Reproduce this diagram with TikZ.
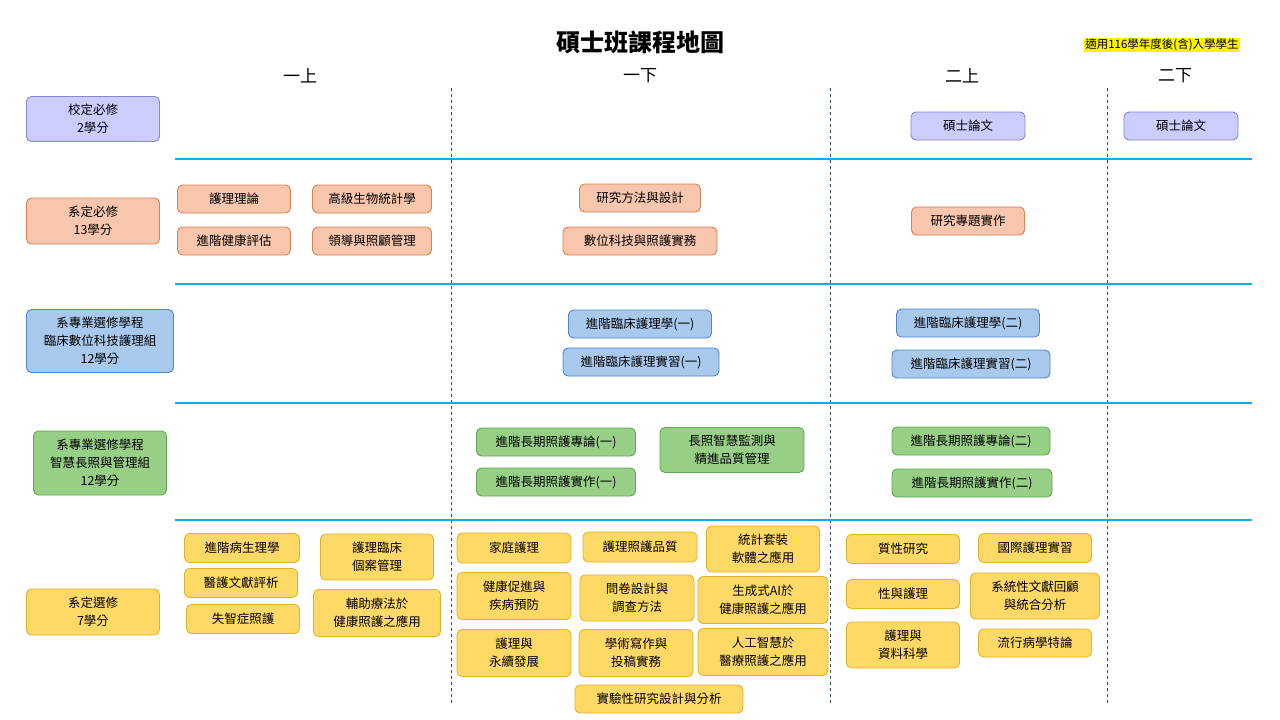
\documentclass[tikz,border=0pt]{standalone}
\usepackage{fontspec}
\setmainfont{Noto Sans CJK TC}
\usetikzlibrary{shapes.geometric}
\definecolor{pF}{HTML}{CCCCFF}\definecolor{pD}{HTML}{8585D6}
\definecolor{oF}{HTML}{F8C6AC}\definecolor{oD}{HTML}{DD7F52}
\definecolor{bF}{HTML}{A9C9EC}\definecolor{bD}{HTML}{4F86CC}
\definecolor{gF}{HTML}{97CF86}\definecolor{gD}{HTML}{5EA84E}
\definecolor{yF}{HTML}{FFD966}\definecolor{yD}{HTML}{E2B32A}
\definecolor{lineB}{HTML}{1AA7E8}\definecolor{dashC}{HTML}{2F4F6F}
\tikzset{
 bx/.style={draw, rounded corners=5pt, line width=0.9pt, align=center, inner sep=0pt, font=\fontsize{12.5}{18}\selectfont},
 P/.style={bx, fill=pF, draw=pD}, O/.style={bx, fill=oF, draw=oD},
 B/.style={bx, fill=bF, draw=bD}, G/.style={bx, fill=gF, draw=gD},
 Y/.style={bx, fill=yF, draw=yD},
 hl/.style={lineB, line width=2.6pt},
 vl/.style={dashC, dashed, line width=0.8pt},
 hd/.style={font=\fontsize{17}{20}\selectfont}
}
\newcommand{\bxn}[7]{\node[#6, minimum width=#4pt, minimum height=#5pt] (#1) at (#2pt,-#3pt) {#7};}
\begin{document}
\begin{tikzpicture}[x=1pt,y=1pt]
\useasboundingbox (0,0) rectangle (1280,-720);
\fill[white] (0,0) rectangle (1280,-720);
\node[font=\fontsize{24}{28}\selectfont\bfseries] (title) at (640,-42) {碩士班課程地圖};
\node[fill=yellow, inner sep=1pt, font=\fontsize{11.5}{13}\selectfont] (note) at (1162,-45) {適用116學年度後(含)入學學生};
\node[hd] (h1) at (300,-76) {一上};
\node[hd] (h2) at (640,-76) {一下};
\node[hd] (h3) at (962,-76) {二上};
\node[hd] (h4) at (1175,-76) {二下};
\foreach \x in {451,830,1107} \draw[vl] (\x,-88) -- (\x,-703);
\foreach \y in {159,284,403,520} \draw[hl] (175,-\y) -- (1252,-\y);
% left headers
\bxn{L1}{93}{119}{133}{45}{P}{校定必修\\2學分}
\bxn{L2}{93}{221}{133}{46}{O}{系定必修\\13學分}
\bxn{L3}{100}{341}{147}{63}{B}{系專業選修學程\\臨床數位科技護理組\\12學分}
\bxn{L4}{100}{463}{133}{64}{G}{系專業選修學程\\智慧長照與管理組\\12學分}
\bxn{L5}{93}{612}{133}{46}{Y}{系定選修\\7學分}
% row1
\bxn{a1}{968}{126}{114}{28}{P}{碩士論文}
\bxn{a2}{1181}{126}{114}{28}{P}{碩士論文}
% row2
\bxn{b1}{234}{199}{113}{28}{O}{護理理論}
\bxn{b2}{372}{199}{119}{28}{O}{高級生物統計學}
\bxn{b3}{234}{241}{113}{28}{O}{進階健康評估}
\bxn{b4}{372}{241}{119}{28}{O}{領導與照顧管理}
\bxn{b5}{640}{198}{121}{28}{O}{研究方法與設計}
\bxn{b6}{640}{241}{154}{28}{O}{數位科技與照護實務}
\bxn{b7}{968}{221}{113}{28}{O}{研究專題實作}
% row3
\bxn{c1}{640}{324}{143}{28}{B}{進階臨床護理學(一)}
\bxn{c2}{641}{362}{156}{28}{B}{進階臨床護理實習(一)}
\bxn{c3}{968}{323}{143}{28}{B}{進階臨床護理學(二)}
\bxn{c4}{971}{364}{158}{28}{B}{進階臨床護理實習(二)}
% row4
\bxn{d1}{556}{442}{159}{28}{G}{進階長期照護專論(一)}
\bxn{d2}{556}{482}{159}{28}{G}{進階長期照護實作(一)}
\bxn{d3}{732}{450}{144}{45}{G}{長照智慧監測與\\精進品質管理}
\bxn{d4}{971}{441}{158}{28}{G}{進階長期照護專論(二)}
\bxn{d5}{972}{483}{160}{28}{G}{進階長期照護實作(二)}
% row5 left
\bxn{e1}{242}{548}{115}{29}{Y}{進階病生理學}
\bxn{e2}{241}{583}{113}{29}{Y}{醫護文獻評析}
\bxn{e3}{243}{619}{113}{29}{Y}{失智症照護}
\bxn{e4}{377}{557}{113}{46}{Y}{護理臨床\\個案管理}
\bxn{e5}{377}{613}{127}{47}{Y}{輔助療法於\\健康照護之應用}
% row5 middle
\bxn{f1}{514}{548}{114}{30}{Y}{家庭護理}
\bxn{f2}{640}{547}{114}{30}{Y}{護理照護品質}
\bxn{f3}{763}{549}{113}{46}{Y}{統計套裝\\軟體之應用}
\bxn{f4}{514}{596}{114}{47}{Y}{健康促進與\\疾病預防}
\bxn{f5}{637}{598}{114}{46}{Y}{問卷設計與\\調查方法}
\bxn{f6}{763}{600}{130}{47}{Y}{生成式AI於\\健康照護之應用}
\bxn{f7}{514}{653}{114}{47}{Y}{護理與\\永續發展}
\bxn{f8}{636}{653}{114}{47}{Y}{學術寫作與\\投稿實務}
\bxn{f9}{763}{652}{130}{47}{Y}{人工智慧於\\醫療照護之應用}
\bxn{f10}{659}{699}{168}{28}{Y}{實驗性研究設計與分析}
% row5 right
\bxn{g1}{903}{549}{113}{29}{Y}{質性研究}
\bxn{g2}{1035}{548}{113}{29}{Y}{國際護理實習}
\bxn{g3}{903}{594}{113}{29}{Y}{性與護理}
\bxn{g4}{1035}{596}{129}{46}{Y}{系統性文獻回顧\\與統合分析}
\bxn{g5}{903}{645}{113}{46}{Y}{護理與\\資料科學}
\bxn{g6}{1035}{643}{113}{28}{Y}{流行病學特論}
\end{tikzpicture}
\end{document}
